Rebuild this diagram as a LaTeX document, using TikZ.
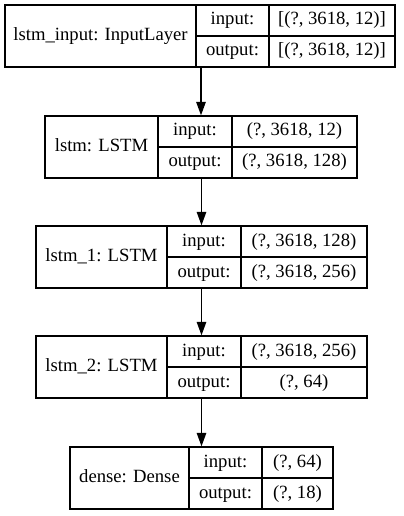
\documentclass[tikz,border=0pt]{standalone}
\usepackage{fontspec}
\setmainfont{Liberation Serif}
\newfontfamily\timesfont{Liberation Serif}
\usetikzlibrary{arrows.meta}
\tikzset{
  cell/.style={draw=black, line width=1.33bp, rectangle, inner sep=0pt,
    text height=13bp, text depth=4bp, font=\timesfont\fontsize{18.67bp}{22bp}\selectfont},
  outer/.style={draw=black, line width=1.33bp, rectangle, inner sep=0pt},
  flow/.style={draw=black, line width=1.33bp, -{Triangle[length=13.5bp,width=9.5bp]}}
}
% #1 name, #2 x0, #3 x1, #4 x2, #5 x3, #6 y0, #7 title, #8 input, #9 output
\newcommand{\nnlayer}[9]{%
  \node[outer, minimum width={(#5-#2)*1bp}, minimum height=62bp] (#1) at ({(#2+#5)/2},{#6+31}) {};
  \node[cell, minimum width={(#3-#2)*1bp}, minimum height=62bp] (#1-t) at ({(#2+#3)/2},{#6+31}) {#7};
  \node[cell, minimum width={(#4-#3)*1bp}, minimum height=31bp] (#1-il) at ({(#3+#4)/2},{#6+15.5}) {input:};
  \node[cell, minimum width={(#4-#3)*1bp}, minimum height=31bp] (#1-ol) at ({(#3+#4)/2},{#6+46.5}) {output:};
  \node[cell, minimum width={(#5-#4)*1bp}, minimum height=31bp] (#1-iv) at ({(#4+#5)/2},{#6+15.5}) {#8};
  \node[cell, minimum width={(#5-#4)*1bp}, minimum height=31bp] (#1-ov) at ({(#4+#5)/2},{#6+46.5}) {#9};
}
\begin{document}
\begin{tikzpicture}[x=1bp,y=-1bp]
  \fill[white] (0,0) rectangle (403,516);
  \useasboundingbox (0,0) rectangle (403,516);
  \nnlayer{L1}{5}{196}{269}{395}{5}{lstm\_input: InputLayer}{[(?, 3618, 12)]}{[(?, 3618, 12)]}
  \nnlayer{L2}{45}{158}{232}{357}{116}{lstm: LSTM}{(?, 3618, 12)}{(?, 3618, 128)}
  \nnlayer{L3}{36}{167}{241}{367}{226}{lstm\_1: LSTM}{(?, 3618, 128)}{(?, 3618, 256)}
  \nnlayer{L4}{36}{167}{241}{367}{336}{lstm\_2: LSTM}{(?, 3618, 256)}{(?, 64)}
  \nnlayer{L5}{70}{189}{262}{333}{447}{dense: Dense}{(?, 64)}{(?, 18)}
  \draw[flow] (L1.south -| L2.north) -- (L2.north);
  \draw[flow] (L2.south -| L3.north) -- (L3.north);
  \draw[flow] (L3.south -| L4.north) -- (L4.north);
  \draw[flow] (L4.south -| L5.north) -- (L5.north);
\end{tikzpicture}
\end{document}
